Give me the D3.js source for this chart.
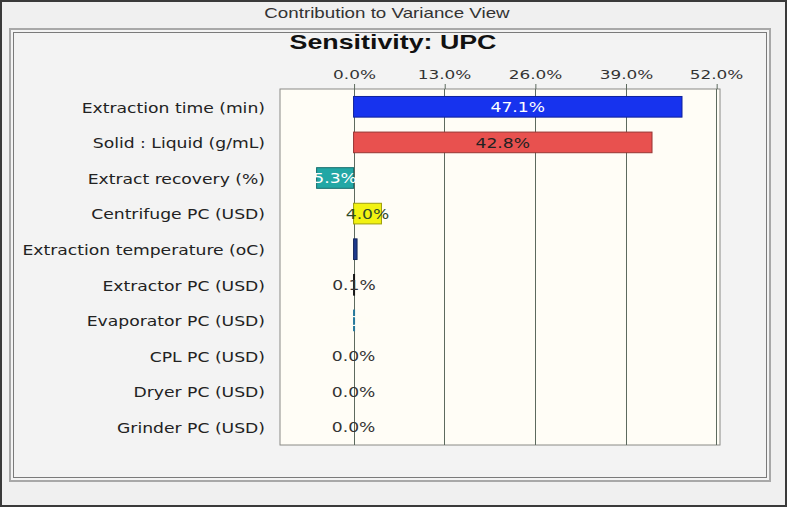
<!DOCTYPE html>
<html>
<head>
<meta charset="utf-8">
<script src="https://cdn.jsdelivr.net/npm/d3@7"></script>
<style>
  html, body { margin: 0; padding: 0; background: #f0f0f0; }
  svg { display: block; }
</style>
</head>
<body>
<script>
// ---- data ----
const windowTitle = "Contribution to Variance View";
const chartTitle = "Sensitivity: UPC";
const categories = [
  "Extraction time (min)",
  "Solid : Liquid (g/mL)",
  "Extract recovery (%)",
  "Centrifuge PC (USD)",
  "Extraction temperature (oC)",
  "Extractor PC (USD)",
  "Evaporator PC (USD)",
  "CPL PC (USD)",
  "Dryer PC (USD)",
  "Grinder PC (USD)"
];
const values = [47.1, 42.8, -5.3, 4.0, 0.5, 0.1, 0.05, 0.0, 0.0, 0.0];
const valueLabels = ["47.1%", "42.8%", "5.3%", "4.0%", "", "0.1%", "0.0%", "0.0%", "0.0%", "0.0%"];
const barColors = ["#1733ee", "#e8514f", "#22a7a5", "#f2f212", "#1e3a8c", "#222222", "#3cb8ea", "#888888", "#888888", "#888888"];
const labelColors = ["#ffffff", "#222222", "#ffffff", "#2f4a2a", "#ffffff", "#333333", "#fffdf5", "#333333", "#333333", "#333333"];
const tickValues = [0, 13, 26, 39, 52];
const tickLabels = ["0.0%", "13.0%", "26.0%", "39.0%", "52.0%"];

const W = 787, H = 507;
const svg = d3.select("body").append("svg").attr("width", W).attr("height", H);

// text helper: horizontally stretched text anchored at (x,y)
function stretchedText(parent, x, y, str, opts) {
  const g = parent.append("g").attr("transform", `translate(${x},${y}) scale(${opts.sx || 1},1)`);
  return g.append("text").attr("x", 0).attr("y", 0)
    .attr("text-anchor", opts.anchor || "start")
    .attr("dy", opts.dy || 0)
    .attr("font-family", opts.family || "DejaVu Sans, sans-serif")
    .attr("font-size", opts.size || 13)
    .attr("font-weight", opts.weight || "normal")
    .attr("fill", opts.fill || "#222")
    .text(str);
}

// window background & border
svg.append("rect").attr("x", 0).attr("y", 0).attr("width", W).attr("height", H).attr("fill", "#f0f0f0");
svg.append("rect").attr("x", 1).attr("y", 1).attr("width", W - 2).attr("height", H - 2)
  .attr("fill", "none").attr("stroke", "#3a3a3a").attr("stroke-width", 2);

stretchedText(svg, 387, 18, windowTitle, { anchor: "middle", family: "Liberation Sans, Arial, sans-serif", size: 14, sx: 1.34, fill: "#333" });

// inner frame
svg.append("rect").attr("x", 10).attr("y", 29).attr("width", 760).attr("height", 452)
  .attr("fill", "#f3f3f3").attr("stroke", "#a8a8a8").attr("stroke-width", 2);
svg.append("rect").attr("x", 13.5).attr("y", 32.5).attr("width", 753).attr("height", 445)
  .attr("fill", "none").attr("stroke", "#7a7a7a").attr("stroke-width", 1);

stretchedText(svg, 393, 49, chartTitle, { anchor: "middle", family: "Liberation Sans, Arial, sans-serif", size: 20, weight: "bold", sx: 1.34, fill: "#111" });

// plot
const pLeft = 280, pRight = 720, pTop = 89, pBottom = 445;
const x = d3.scaleLinear().domain([-10.55, 52.55]).range([pLeft, pRight]);
const y = d3.scaleBand().domain(categories).range([pTop, pBottom]).paddingInner(0.42).paddingOuter(0.21);

svg.append("rect").attr("x", pLeft).attr("y", pTop).attr("width", pRight - pLeft).attr("height", pBottom - pTop)
  .attr("fill", "#fffdf6").attr("stroke", "#8a8a86").attr("stroke-width", 1);

// gridlines
svg.append("g").selectAll("line").data(tickValues).join("line")
  .attr("x1", d => Math.round(x(d)) + 0.5).attr("x2", d => Math.round(x(d)) + 0.5)
  .attr("y1", pTop).attr("y2", pBottom)
  .attr("stroke", "#5d6a5e").attr("stroke-width", 1);

// top axis (ticks via d3 axis, labels stretched)
const axis = d3.axisTop(x).tickValues(tickValues).tickFormat(() => "").tickSize(5).tickSizeOuter(0);
const ag = svg.append("g").attr("transform", `translate(0.5,${pTop})`).call(axis);
ag.select(".domain").remove();
ag.selectAll(".tick line").attr("stroke", "#5d6a5e");
const tg = svg.append("g");
tickValues.forEach((v, i) => {
  stretchedText(tg, Math.round(x(v)) + 0.5, 79, tickLabels[i], { anchor: "middle", size: 13, sx: 1.3, fill: "#333" });
});

// category labels
const cg = svg.append("g");
categories.forEach(c => {
  stretchedText(cg, 265, y(c) + y.bandwidth() / 2, c, { anchor: "end", size: 13.7, sx: 1.255, dy: "0.42em", fill: "#222" });
});

// bars
const idx = d3.range(categories.length);
svg.append("g").selectAll("rect").data(idx.filter(i => values[i] !== 0)).join("rect")
  .attr("x", i => x(Math.min(0, values[i])))
  .attr("y", i => y(categories[i]))
  .attr("width", i => Math.max(1, Math.abs(x(values[i]) - x(0))))
  .attr("height", y.bandwidth())
  .attr("fill", i => barColors[i])
  .attr("stroke", i => d3.color(barColors[i]).darker(1.2))
  .attr("stroke-width", 1);

// value labels
const vg = svg.append("g");
idx.forEach(i => {
  if (!valueLabels[i]) return;
  stretchedText(vg, (x(values[i]) + x(0)) / 2, y(categories[i]) + y.bandwidth() / 2, valueLabels[i],
    { anchor: "middle", size: 13.5, sx: 1.27, dy: "0.38em", fill: labelColors[i] });
});
</script>
</body>
</html>
